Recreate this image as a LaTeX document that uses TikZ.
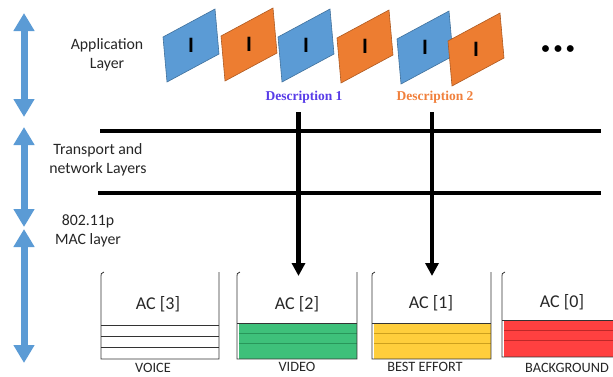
\documentclass[tikz,border=0pt]{standalone}
\usepackage{fontspec}
\setmainfont{Carlito}
\newfontfamily\descfont{Liberation Serif}
\usetikzlibrary{arrows.meta}

\definecolor{layerblue}{RGB}{91,155,213}
\definecolor{frameblue}{RGB}{91,155,213}
\definecolor{frameblueline}{RGB}{65,113,156}
\definecolor{frameorange}{RGB}{237,125,49}
\definecolor{frameorangeline}{RGB}{174,90,33}
\definecolor{descone}{RGB}{88,60,232}
\definecolor{desctwo}{RGB}{240,128,60}
\definecolor{videogreen}{RGB}{62,192,122}
\definecolor{videogreenline}{RGB}{40,150,90}
\definecolor{effortyellow}{RGB}{255,206,60}
\definecolor{effortyellowline}{RGB}{205,160,30}
\definecolor{bgred}{RGB}{255,64,64}
\definecolor{bgredline}{RGB}{190,40,40}

\tikzset{
  bluearrow/.style={line width=7pt, layerblue,
    {Triangle[width=20pt,length=18pt]}-{Triangle[width=20pt,length=18pt]}},
  drop/.style={line width=4.5pt, -{Triangle[width=13pt,length=13pt]}},
  layerline/.style={line width=4pt},
  layertext/.style={align=center, font=\fontsize{15.8}{19.5}\selectfont, text=black!85},
  desc/.style={font=\descfont\bfseries\fontsize{13.5}{16}\selectfont},
  aclabel/.style={font=\fontsize{18}{20}\selectfont, text=black!85},
  catlabel/.style={font=\fontsize{14.3}{15}\selectfont, text=black!85, inner sep=1pt},
  wall/.style={line width=0.8pt, black!80}
}

\begin{document}
\begin{tikzpicture}[x=1pt, y=-1pt]
\useasboundingbox (0,0) rectangle (613,376);

% Layer arrows and names
\draw[bluearrow] (24,13) -- (24,117);
\draw[bluearrow] (24,127) -- (24,227);
\draw[bluearrow] (24,229) -- (24,363);

\node[layertext] (app) at (107,55) {Application\\Layer};
\node[layertext] (trans) at (98,160) {Transport and\\network Layers};
\node[layertext] (mac) at (88,231) {802.11p\\MAC layer};

% Frames of the two descriptions
\foreach \fx/\fy/\fc in {163/37/frameblue, 221/36/frameorange, 278/37/frameblue,
                          337/38/frameorange, 397/39/frameblue, 448/41/frameorange}{
  \filldraw[fill=\fc, draw=\fc line, line width=0.6pt]
    (\fx,\fy) -- ++(52,-28) -- ++(4,45) -- ++(-52,28) -- cycle;
  \node[font=\fontsize{22}{22}\selectfont\bfseries] at (\fx+28,\fy+8.5) {I};
}
\node[font=\fontsize{16}{16}\selectfont\bfseries] (more) at (558,50) {•\hspace{4.5pt}•\hspace{4.5pt}•};

\node[desc, text=descone] (desc1) at (304,97) {Description 1};
\node[desc, text=desctwo] (desc2) at (435,97) {Description 2};

% Layer borders
\draw[layerline] (100,131) -- (601,131);
\draw[layerline] (98,193) -- (601,193);

% Queues
\foreach \ql/\qr/\qt/\qc/\qa/\qb/\qd in {237/357/323/videogreen/333/343/359,
                                        372/491/323/effortyellow/333/343/359,
                                        502/625/320/bgred/330/340/357}{
  \fill[\qc] (\ql+2,\qt) rectangle (\qr,\qd);
  \draw[\qc line, line width=0.8pt] (\ql+2,\qa) -- (\qr,\qa) (\ql+2,\qb) -- (\qr,\qb);
  \draw[wall] (\ql,\qt) -- (\qr,\qt);
  \draw[wall] (\ql+3,272) .. controls (\ql,273) .. (\ql,279) -- (\ql,\qd) -- (\qr,\qd) -- (\qr,272);
}
\draw[wall] (101,325) -- (219,325) (101,336) -- (219,336) (101,347) -- (219,347);
\draw[wall] (104,272) .. controls (101,273) .. (101,279) -- (101,359) -- (219,359) -- (219,272);

\node[aclabel] (ac3) at (158,304) {AC [3]};
\node[aclabel] (ac2) at (297,304) {AC [2]};
\node[aclabel] (ac1) at (431,303) {AC [1]};
\node[aclabel] (ac0) at (562,302) {AC [0]};

\node[catlabel] (voice) at (153,368) {VOICE};
\node[catlabel] (video) at (297,367) {VIDEO};
\node[catlabel] (effort) at (425,367) {BEST EFFORT};
\node[catlabel] (background) at (567,368) {BACKGROUND};

% Mapping of the descriptions to the queues
\coordinate (src1) at (298.5,112);
\coordinate (dst1) at (298.5,276);
\coordinate (src2) at (432,112);
\coordinate (dst2) at (432,276);
\draw[drop] (src1) -- (dst1);
\draw[drop] (src2) -- (dst2);

\end{tikzpicture}
\end{document}
